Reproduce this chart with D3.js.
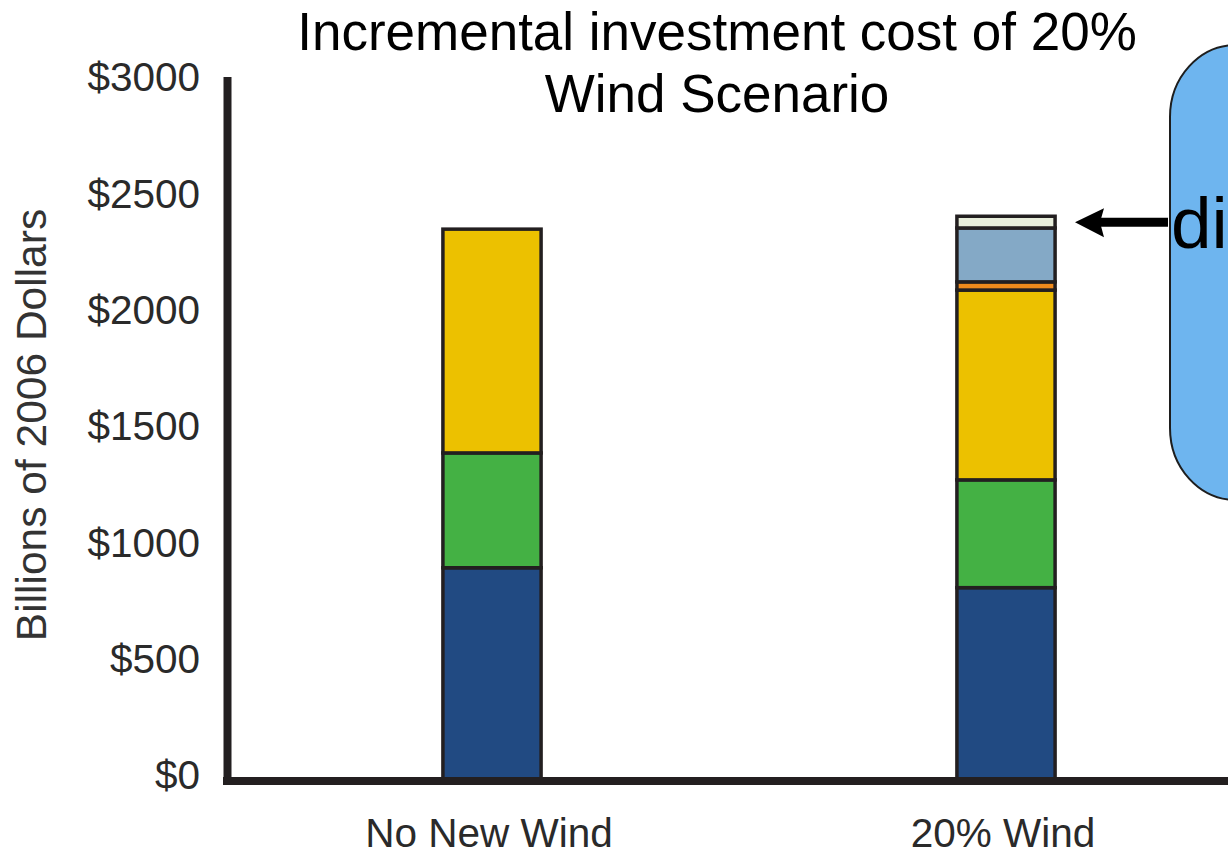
<!DOCTYPE html>
<html>
<head>
<meta charset="utf-8">
<script src="https://cdn.jsdelivr.net/npm/d3@7"></script>
<style>
  html, body { margin: 0; padding: 0; background: #ffffff; overflow: hidden; }
  svg { display: block; font-family: "Liberation Sans", Arial, Helvetica, sans-serif; }
</style>
</head>
<body>
<svg id="chart" width="1228" height="854"></svg>
<script>
// Scenario categories along the x axis
const categories = ["No New Wind", "20% Wind"];

// Cost components (billions of 2006 dollars), stacked bottom to top
const seriesNames = ["Base 1", "Base 2", "Base 3", "Extra 1", "Extra 2", "Extra 3"];
const noNewWind = [910, 490, 955, 0, 0, 0];
const wind20 = [825, 460, 810, 35, 230, 50];
const seriesColors = ["#214a82", "#44b144", "#ecc100", "#ef8a1c", "#84a9c6", "#e8eedb"];

// Axis ticks
const tickValues = [0, 500, 1000, 1500, 2000, 2500, 3000];
const tickLabels = ["$0", "$500", "$1000", "$1500", "$2000", "$2500", "$3000"];

const titleLines = ["Incremental investment cost of 20%", "Wind Scenario"];
const yTitle = "Billions of 2006 Dollars";
const calloutText = "di";

const svg = d3.select("#chart");
const ink = "#231f20";

const x = d3.scaleBand()
  .domain(categories)
  .range([235, 1263])
  .paddingInner(0.809)
  .paddingOuter(0.4045);

const y = d3.scaleLinear().domain([0, 3000]).range([781, 78]);
// Tick labels sit a little tighter than the plot scale
const yLabels = d3.scaleLinear().domain([0, 3000]).range([775, 77]);

// Stack the component values per scenario
const rows = categories.map((c, i) => {
  const vals = i === 0 ? noNewWind : wind20;
  const r = { category: c };
  seriesNames.forEach((s, j) => r[s] = vals[j]);
  return r;
});
const stacked = d3.stack().keys(seriesNames)(rows);

// Bars
const gBars = svg.append("g");
stacked.forEach((layer, j) => {
  gBars.selectAll(null)
    .data(layer.filter(d => d[1] - d[0] > 0))
    .join("rect")
    .attr("x", d => x(d.data.category))
    .attr("width", x.bandwidth())
    .attr("y", d => y(d[1]))
    .attr("height", d => y(d[0]) - y(d[1]))
    .attr("fill", seriesColors[j])
    .attr("stroke", ink)
    .attr("stroke-width", 3.5);
});

// Axis lines
svg.append("line")
  .attr("x1", 227.5).attr("x2", 227.5)
  .attr("y1", 77).attr("y2", 785)
  .attr("stroke", ink).attr("stroke-width", 8);
svg.append("line")
  .attr("x1", 223).attr("x2", 1228)
  .attr("y1", 781).attr("y2", 781)
  .attr("stroke", ink).attr("stroke-width", 8);

// Y tick labels
const yAxis = d3.axisLeft(yLabels)
  .tickValues(tickValues)
  .tickFormat((d, i) => tickLabels[i])
  .tickSize(0)
  .tickPadding(0);
const gY = svg.append("g").attr("transform", "translate(200,0)").call(yAxis);
gY.select(".domain").remove();
gY.selectAll("text")
  .attr("font-family", "Liberation Sans, Arial, sans-serif")
  .attr("font-size", 40.5)
  .attr("fill", "#2a2a2a")
  .attr("dy", "0.34em");

// X category labels
const xAxis = d3.axisBottom(x).tickSize(0).tickPadding(0);
const gX = svg.append("g").attr("transform", "translate(0,847)").call(xAxis);
gX.select(".domain").remove();
gX.selectAll("text")
  .attr("font-family", "Liberation Sans, Arial, sans-serif")
  .attr("font-size", 40.5)
  .attr("fill", "#2a2a2a")
  .attr("dy", 0)
  .attr("dx", -3);

// Y axis title
svg.append("text")
  .attr("transform", "translate(46,425) rotate(-90)")
  .attr("text-anchor", "middle")
  .attr("font-size", 42.5)
  .attr("fill", "#333333")
  .text(yTitle);

// Chart title
svg.append("text")
  .attr("text-anchor", "middle")
  .attr("font-size", 53)
  .attr("fill", "#000000")
  .selectAll("tspan")
  .data(titleLines)
  .join("tspan")
  .attr("x", 717)
  .attr("y", (d, i) => 50 + i * 62)
  .text(d => d);

// Callout box with arrow pointing at the top of the 20% Wind bar
const topOfWind = y(d3.sum(wind20));
svg.append("rect")
  .attr("x", 1170).attr("y", 45)
  .attr("width", 200).attr("height", 455)
  .attr("rx", 66).attr("ry", 72)
  .attr("fill", "#6eb5ef")
  .attr("stroke", "#1e1e1e")
  .attr("stroke-width", 2);
svg.append("text")
  .attr("x", 1171).attr("y", 248)
  .attr("font-size", 73)
  .attr("fill", "#000000")
  .text(calloutText);

const arrowY = topOfWind + 6;
svg.append("line")
  .attr("x1", 1168).attr("x2", 1098)
  .attr("y1", arrowY).attr("y2", arrowY)
  .attr("stroke", "#000000").attr("stroke-width", 9);
svg.append("path")
  .attr("d", `M1075,${arrowY} L1104,${arrowY - 14} L1100,${arrowY} L1104,${arrowY + 15} Z`)
  .attr("fill", "#000000");
</script>
</body>
</html>
